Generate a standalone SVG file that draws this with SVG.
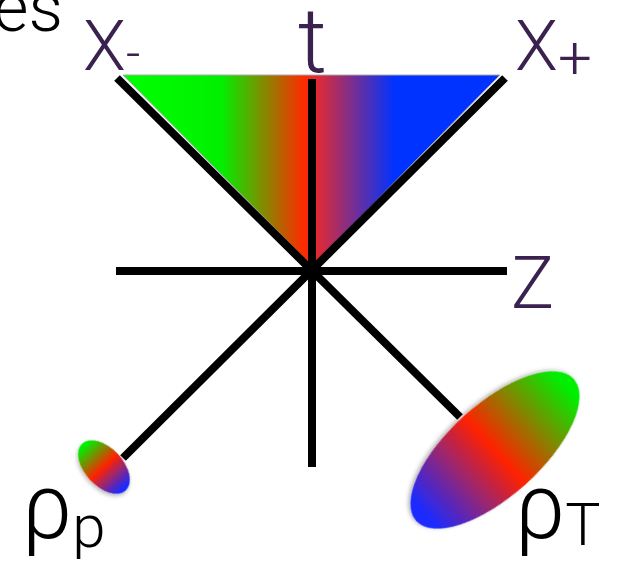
<svg xmlns="http://www.w3.org/2000/svg" width="627" height="564" viewBox="0 0 627 564">
<style>
.lbl{font-family:Roboto,"Liberation Sans",sans-serif;font-weight:300;fill:#3b2150}
.blk{font-family:Roboto,"Liberation Sans",sans-serif;font-weight:300;fill:#000}
.ax{stroke:#000;stroke-width:8;fill:none}
</style>
<defs>
<linearGradient id="cone" gradientUnits="userSpaceOnUse" x1="123" y1="0" x2="500" y2="0">
<stop offset="0" stop-color="#00ff00"/>
<stop offset="0.26" stop-color="#00f000"/>
<stop offset="0.48" stop-color="#ff2a00"/>
<stop offset="0.51" stop-color="#e62a2e"/>
<stop offset="0.72" stop-color="#0033ff"/>
<stop offset="1" stop-color="#0033ff"/>
</linearGradient>
<linearGradient id="egrad" x1="0" y1="0" x2="1" y2="0">
<stop offset="0.05" stop-color="#00ee00"/>
<stop offset="0.5" stop-color="#ff2200"/>
<stop offset="0.95" stop-color="#1a2aff"/>
</linearGradient>
<filter id="sh" x="-20%" y="-20%" width="140%" height="140%">
<feDropShadow dx="1" dy="2" stdDeviation="2" flood-opacity="0.3"/>
</filter>
</defs>
<text class="blk" x="63" y="31" font-size="68" text-anchor="end">es</text>
<g id="cone-node">
<polygon points="123,75 500,75 312,266" fill="url(#cone)" stroke="#aaa" stroke-width="1"/>
</g>
<g id="connectors">
<line class="ax" x1="312" y1="79" x2="312" y2="467"/>
<line class="ax" x1="116" y1="271" x2="507" y2="271"/>
<line class="ax" x1="117" y1="78" x2="460" y2="417"/>
<line class="ax" x1="505" y1="78" x2="123" y2="458"/>
</g>
<g id="rho-p">
<ellipse cx="104" cy="467" rx="32" ry="19" transform="rotate(47 104 467)" fill="url(#egrad)" filter="url(#sh)"/>
<text class="blk" x="22" y="538" font-size="90">ρ<tspan font-size="60" dy="9">p</tspan></text>
</g>
<g id="rho-T">
<ellipse cx="495" cy="450" rx="106" ry="46" transform="rotate(138 495 450)" fill="url(#egrad)" filter="url(#sh)"/>
<text class="blk" x="515" y="538" font-size="90">ρ<tspan font-size="59" dy="7">T</tspan></text>
</g>
<g id="labels">
<text class="lbl" x="83" y="70" font-size="70">X<tspan font-size="50">-</tspan></text>
<text class="lbl" x="298" y="72" font-size="90">t</text>
<text class="lbl" x="515" y="70" font-size="70">X<tspan font-size="60" dy="8">+</tspan></text>
<text class="lbl" x="511" y="308" font-size="72">Z</text>
</g>
</svg>
